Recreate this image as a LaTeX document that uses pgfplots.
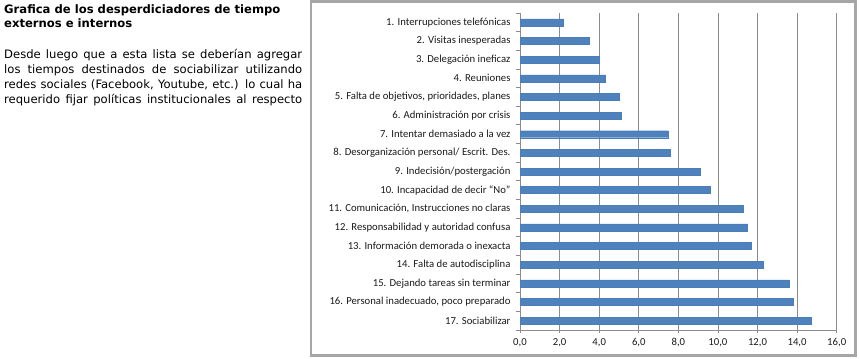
\documentclass[border=0pt]{standalone}
\usepackage{pgfplots}
\pgfplotsset{compat=1.18}
\usepackage{fontspec}
\setmainfont{Carlito}
\newfontfamily\verd{DejaVu Sans}
\definecolor{barblue}{HTML}{4F81BD}
\definecolor{baredge}{HTML}{4A7EBB}
\definecolor{gridgray}{HTML}{8C8C8C}
\definecolor{boxgray}{HTML}{A6A6A6}
\definecolor{txt}{HTML}{1A1A1A}
\begin{document}
\begin{tikzpicture}[x=1pt,y=1pt]
\useasboundingbox (0,0) rectangle (860,359);
\draw[color=boxgray, line width=2.5pt] (311,3.5) rectangle (855.5,357.5);
% left text
\node[anchor=base west, inner sep=0, font=\verd\bfseries\fontsize{11.6}{13}\selectfont] at (4,345) {Grafica de los desperdiciadores de tiempo};
\node[anchor=base west, inner sep=0, font=\verd\bfseries\fontsize{11.6}{13}\selectfont] at (4,331) {externos e internos};
\begin{scope}[every node/.style={anchor=base west, inner sep=0, font=\verd\fontsize{11.6}{13}\selectfont}]
\node at (4,300) {\makebox[298pt][s]{Desde luego que a esta lista se deberían agregar}};
\node at (4,285) {\makebox[298pt][s]{los tiempos destinados de sociabilizar utilizando}};
\node at (4,270) {\makebox[298pt][s]{redes sociales (Facebook, Youtube, etc.) lo cual ha}};
\node at (4,255) {\makebox[298pt][s]{requerido fijar políticas institucionales al respecto}};
\end{scope}
\begin{axis}[
  at={(520pt,29pt)}, anchor=south west,
  scale only axis, width=316.7pt, height=317pt,
  xmin=0, xmax=16, ymin=0.5, ymax=17.5,
  y dir=reverse,
  xbar, bar width=7pt,
  axis x line*=bottom, axis y line*=left,
  axis line style={gridgray, line width=0.8pt},
  xmajorgrids, grid style={gridgray, line width=0.8pt},
  xtick={0,2,...,16},
  ytick={1,...,17},
  minor ytick={0.5,1.5,...,17.5},
  tick align=outside,
  major tick length=3pt, minor tick length=4pt,
  major y tick style={draw=none},
  minor y tick style={gridgray, line width=0.8pt},
  major x tick style={gridgray, line width=0.8pt},
  yticklabels={
    {1. Interrupciones telefónicas},
    {2. Visitas inesperadas\hspace{2.5pt}},
    {3. Delegación ineficaz\hspace{2.5pt}},
    {4. Reuniones},
    {5. Falta de objetivos, prioridades, planes},
    {6. Administración por crisis},
    {7. Intentar demasiado a la vez},
    {8. Desorganización personal/ Escrit. Des.},
    {9. Indecisión/postergación},
    {10. Incapacidad de decir “No”},
    {11. Comunicación, Instrucciones no claras},
    {12. Responsabilidad y autoridad confusa},
    {13. Información demorada o inexacta},
    {14. Falta de autodisciplina},
    {15. Dejando tareas sin terminar\hspace{2.5pt}},
    {16. Personal inadecuado, poco preparado},
    {17. Sociabilizar}},
  yticklabel style={font=\fontsize{10.7}{12}\selectfont, text=txt, xshift=-3pt},
  xticklabel style={font=\fontsize{10.7}{12}\selectfont, text=txt, yshift=-2pt,
    /pgf/number format/.cd, fixed, fixed zerofill, precision=1, use comma, assume math mode=true},
]
\addplot[fill=barblue, draw=baredge] coordinates {
  (2.2,1) (3.5,2) (4.0,3) (4.3,4) (5.0,5) (5.1,6) (7.5,7) (7.6,8) (9.1,9)
  (9.6,10) (11.3,11) (11.5,12) (11.7,13) (12.3,14) (13.6,15) (13.8,16) (14.7,17)
};
\end{axis}
\end{tikzpicture}
\end{document}
